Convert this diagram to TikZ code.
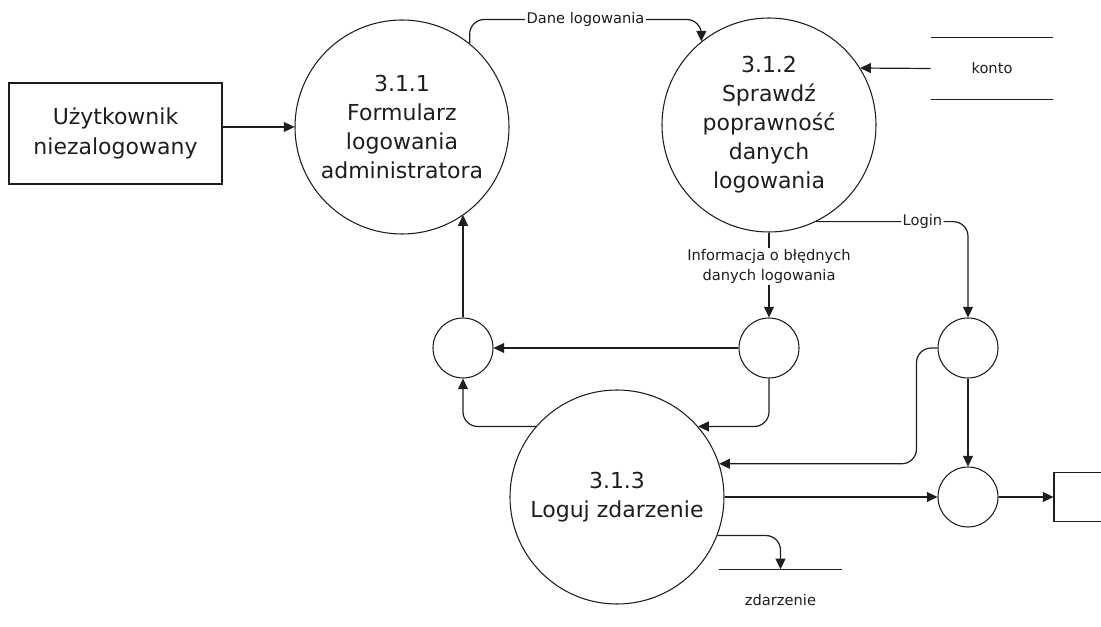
\documentclass[tikz,border=0pt]{standalone}
\usepackage{fontspec}
\setmainfont{DejaVu Sans}
\usetikzlibrary{arrows.meta}
\definecolor{ink}{HTML}{1E1E1E}
\tikzset{
  proc/.style={circle, draw=ink, line width=0.8pt, minimum size=160.5pt, inner sep=0pt, align=center, text=ink, font=\fontsize{16.5}{21.75}\selectfont},
  junc/.style={circle, draw=ink, line width=0.8pt, minimum size=45pt, inner sep=0pt},
  entity/.style={draw=ink, line width=0.8pt, minimum width=159.75pt, minimum height=75.75pt, align=center, text=ink, font=\fontsize{16.5}{22.5}\selectfont},
  store/.style={minimum width=91.5pt, minimum height=45.75pt, inner sep=0pt, text=ink, font=\fontsize{11}{14}\selectfont},
  storeline/.style={draw=ink, line width=0.9pt},
  flow/.style={draw=ink, line width=0.9pt, -{Triangle[length=8pt,width=7.5pt]}, rounded corners=11pt},
  lab/.style={fill=white, inner sep=1pt, text=ink, font=\fontsize{11}{15}\selectfont, align=center},
}

\begin{document}
\begin{tikzpicture}[x=0.75pt, y=-0.75pt]
  \useasboundingbox (0,0) rectangle (1101,627);
  \clip (0,0) rectangle (1101,627);

  \node[entity] (user) at (115.5,133.5) {Użytkownik\\niezalogowany};
  \node[proc] (p1) at (402,127) {3.1.1\\Formularz\\logowania\\administratora};
  \node[proc] (p2) at (769,125) {3.1.2\\Sprawdź\\poprawność\\danych\\logowania};
  \node[proc] (p3) at (617,497) {3.1.3\\Loguj zdarzenie};
  \node[junc] (jL) at (463,348) {};
  \node[junc] (jA) at (769,348) {};
  \node[junc] (jB) at (968,348) {};
  \node[junc] (jC) at (968,497) {};
  \node[entity, minimum width=45pt, minimum height=36.75pt] (ext) at (1084,497) {};
  \node[store] (konto) at (992,68.5) {konto};
  \node[store] (zd) at (780.5,600) {zdarzenie};

  \draw[storeline] (konto.north west) -- (konto.north east);
  \draw[storeline] (konto.south west) -- (konto.south east);
  \draw[storeline] (zd.north west) -- (zd.north east);

  \draw[flow] (user.east |- p1) -- (p1.west);
  \draw[flow] (p1.51) |- node[lab, pos=0.75] {Dane logowania} (p2.129 |- p1.north) -- (p2.129);
  \draw[flow] (konto.west) -- (p2.32);
  \draw[flow] (p2.south) -- node[lab, pos=0.4] {Informacja o błędnych\\danych logowania} (jA.north);
  \draw[flow] (p2.-64) -| node[lab, pos=0.35] {Login} (jB.north);
  \draw[flow] (jA.west) -- (jL.east);
  \draw[flow] (jA.south) |- (p3.41);
  \draw[flow] (p3.139) -| (jL.south);
  \draw[flow] (jL.north) -- (jL.north |- p1.-55);
  \draw[flow] (jB.west) -- ++(-21,0) |- (p3.18);
  \draw[flow] (jB.south) -- (jC.north);
  \draw[flow] (p3.east) -- (jC.west);
  \draw[flow] (jC.east) -- (ext.west);
  \draw[flow] (p3.-21) -| (zd.north);
\end{tikzpicture}
\end{document}
